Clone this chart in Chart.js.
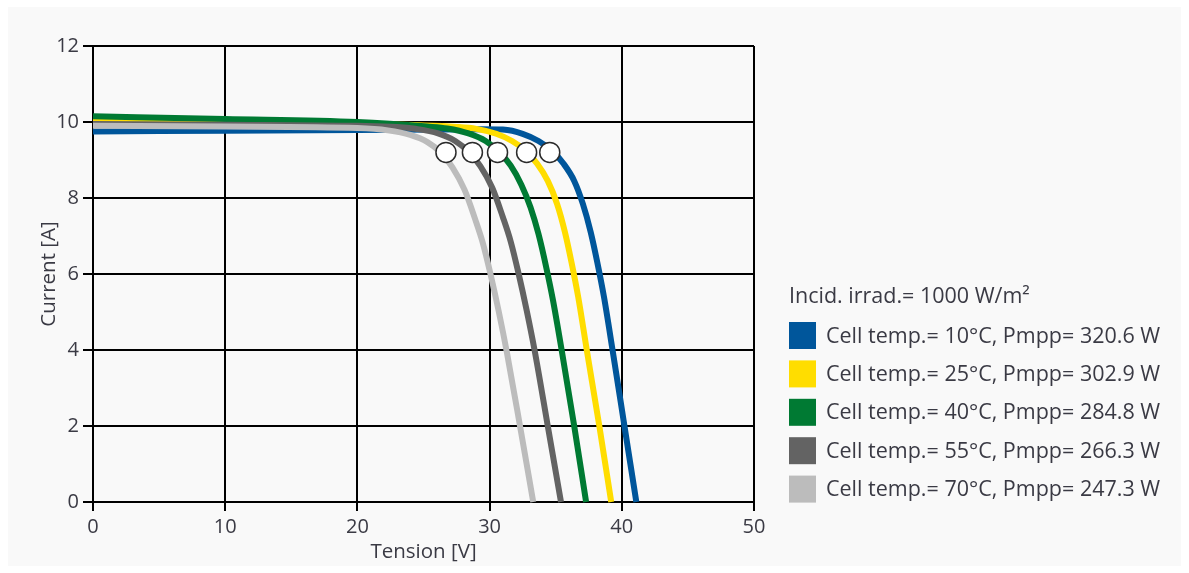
<!DOCTYPE html>
<html>
<head>
<meta charset="utf-8">
<script src="https://cdn.jsdelivr.net/npm/chart.js@4/dist/chart.umd.min.js"></script>
<style>
    html, body { margin: 0; padding: 0; background: #ffffff; }
    #wrap { width: 1189px; height: 573px; }
</style>
</head>
<body>
<div id="wrap"><canvas id="ivChart" width="1189" height="573"></canvas></div>
<script>
// ================= DATA =================

const legendTitle = "Incid. irrad.= 1000 W/m²";

const seriesLabels = [
    "Cell temp.= 10°C, Pmpp= 320.6 W",
    "Cell temp.= 25°C, Pmpp= 302.9 W",
    "Cell temp.= 40°C, Pmpp= 284.8 W",
    "Cell temp.= 55°C, Pmpp= 266.3 W",
    "Cell temp.= 70°C, Pmpp= 247.3 W"
];

const seriesColors = ["#00569b", "#ffdd00", "#007a33", "#636363", "#bcbcbc"];

// voltage [V] / current [A]
const volt10 = [0, 10, 20, 29.5, 31.0, 32.5, 33.7, 34.7, 35.6, 36.4, 37.05, 37.65, 38.15, 38.65, 39.3, 40.2, 41.1];
const amp10  = [9.75, 9.77, 9.79, 9.81, 9.8, 9.69, 9.5, 9.25, 8.9, 8.45, 7.85, 7.1, 6.3, 5.4, 4.0, 2.0, 0];

const volt25 = [0, 10, 20, 27.5, 29.0, 30.5, 31.7, 32.7, 33.6, 34.4, 35.1, 35.7, 36.2, 36.7, 37.35, 38.3, 39.2];
const amp25  = [10.02, 10.0, 9.95, 9.87, 9.82, 9.69, 9.5, 9.25, 8.9, 8.45, 7.85, 7.1, 6.3, 5.4, 4.0, 2.0, 0];

const volt40 = [0, 10, 20, 25.3, 26.8, 28.4, 29.7, 30.7, 31.6, 32.4, 33.1, 33.7, 34.3, 34.8, 35.45, 36.4, 37.3];
const amp40  = [10.15, 10.08, 10.0, 9.88, 9.83, 9.7, 9.5, 9.22, 8.85, 8.35, 7.75, 7.05, 6.15, 5.3, 4.0, 2.0, 0];

const volt55 = [0, 10, 20, 23.0, 24.4, 26.1, 27.4, 28.4, 29.3, 30.2, 31.0, 31.6, 32.2, 32.8, 33.4, 34.4, 35.4];
const amp55  = [9.95, 9.93, 9.9, 9.87, 9.82, 9.7, 9.5, 9.22, 8.84, 8.27, 7.5, 6.85, 6.0, 5.05, 4.0, 2.0, 0];

const volt70 = [0, 10, 20, 22.3, 24.0, 25.3, 26.3, 27.2, 28.1, 28.9, 29.5, 30.1, 30.7, 31.3, 32.3, 33.3];
const amp70  = [9.9, 9.88, 9.84, 9.78, 9.66, 9.47, 9.2, 8.8, 8.22, 7.45, 6.8, 5.95, 5.0, 3.95, 2.0, 0];

// maximum power points
const mppVolt = [34.55, 32.8, 30.6, 28.7, 26.7];
const mppAmp  = [9.2, 9.2, 9.2, 9.2, 9.2];

const xTicks = [0, 10, 20, 30, 40, 50];
const yTicks = [0, 2, 4, 6, 8, 10, 12];

// ================= BUILD =================

const curves = [
    [volt10, amp10],
    [volt25, amp25],
    [volt40, amp40],
    [volt55, amp55],
    [volt70, amp70]
];

const toPoints = (xs, ys) => xs.map((x, i) => ({ x: x, y: ys[i] }));

const curveSets = curves.map((c, i) => ({
    label: seriesLabels[i],
    data: toPoints(c[0], c[1]),
    showLine: true,
    borderColor: seriesColors[i],
    backgroundColor: seriesColors[i],
    borderWidth: 6,
    pointRadius: 0,
    cubicInterpolationMode: "monotone",
    order: 10 - i
}));

const mppSet = {
    label: "MPP",
    data: toPoints(mppVolt, mppAmp),
    showLine: false,
    pointRadius: 10,
    pointBorderWidth: 1.5,
    pointBorderColor: "#2b2b2b",
    pointBackgroundColor: "#ffffff",
    order: 0
};

const textColor = "#3a3a44";
const fontFamily = "'Open Sans', sans-serif";

// background panel + custom legend
const decorPlugin = {
    id: "decor",
    beforeDraw(chart) {
        const ctx = chart.ctx;
        ctx.save();
        ctx.fillStyle = "#f9f9f9";
        ctx.fillRect(8, 7, 1173, 559);
        ctx.restore();
    },
    afterDraw(chart) {
        const ctx = chart.ctx;
        ctx.save();
        ctx.font = "21.5px " + fontFamily;
        ctx.fillStyle = textColor;
        ctx.textBaseline = "middle";
        ctx.textAlign = "left";
        ctx.fillText(legendTitle, 789, 297);
        seriesLabels.forEach((lab, i) => {
            const cy = 335.5 + i * 38.4;
            ctx.fillStyle = seriesColors[i];
            ctx.fillRect(789, cy - 13.5, 27, 27);
            ctx.fillStyle = textColor;
            ctx.fillText(lab, 826, cy + 1);
        });
        ctx.restore();
    }
};

// ================= CHART =================

const ivChart = new Chart(document.getElementById("ivChart"), {
    type: "scatter",

    data: {
        datasets: [mppSet].concat(curveSets)
    },

    plugins: [decorPlugin],

    options: {
        responsive: false,
        animation: false,
        clip: false,

        layout: {
            padding: { top: 46, right: 435, bottom: 0, left: 0 }
        },

        plugins: {
            legend: { display: false },
            tooltip: { enabled: false }
        },

        scales: {
            x: {
                type: "linear",
                min: 0,
                max: 50,
                afterFit: s => { s.height = 71; },
                afterBuildTicks: s => { s.ticks = xTicks.map(v => ({ value: v })); },
                ticks: {
                    color: textColor,
                    padding: 4,
                    font: { family: fontFamily, size: 20 }
                },
                title: {
                    display: true,
                    text: "Tension [V]",
                    color: textColor,
                    padding: 9,
                    font: { family: fontFamily, size: 20.5 }
                },
                grid: {
                    color: "#000000",
                    lineWidth: 2,
                    tickLength: 9
                },
                border: { color: "#000000", width: 2 }
            },

            y: {
                type: "linear",
                min: 0,
                max: 12,
                afterFit: s => { s.width = 93; },
                afterBuildTicks: s => { s.ticks = yTicks.map(v => ({ value: v })); },
                ticks: {
                    color: textColor,
                    padding: 4,
                    font: { family: fontFamily, size: 20 }
                },
                title: {
                    display: true,
                    text: "Current [A]",
                    color: textColor,
                    padding: 37,
                    font: { family: fontFamily, size: 20.5 }
                },
                grid: {
                    color: "#000000",
                    lineWidth: 2,
                    tickLength: 10
                },
                border: { color: "#000000", width: 2 }
            }
        }
    }
});
</script>
</body>
</html>
